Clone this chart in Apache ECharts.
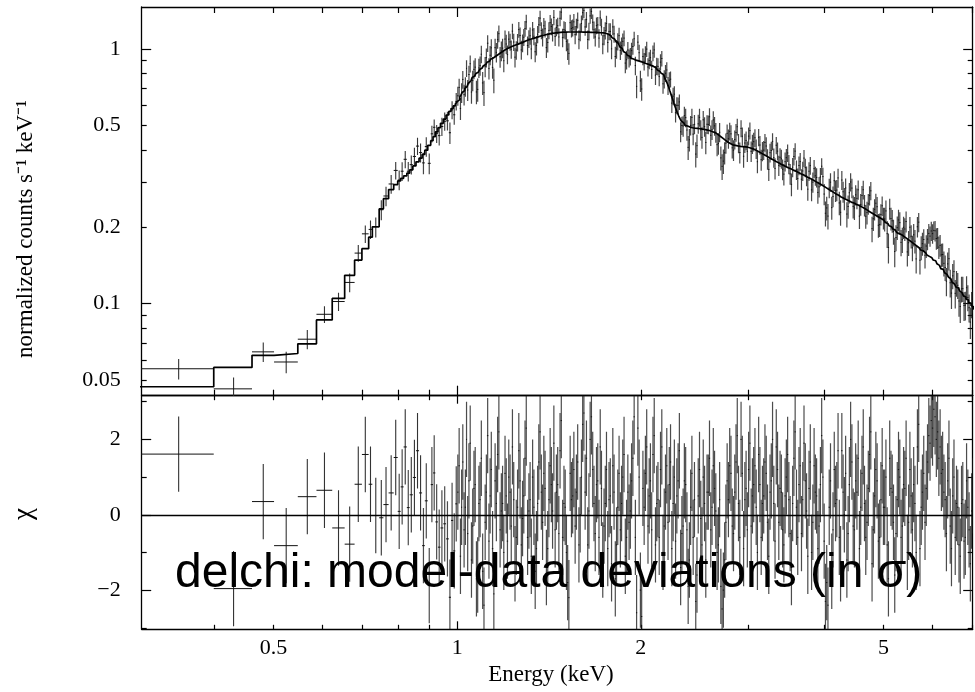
<!DOCTYPE html>
<html>
<head>
<meta charset="utf-8">
<script src="https://cdn.jsdelivr.net/npm/echarts@6/dist/echarts.min.js"></script>
<style>
html,body{margin:0;padding:0;background:#ffffff;}
#chart{width:975px;height:692px;}
</style>
</head>
<body>
<div id="chart"></div>
<script>
// ---------------- DATA ----------------
// Energy bin edges (keV)
const binEdges = [
  0.300, 0.399, 0.461, 0.501, 0.548, 0.588, 0.624, 0.654, 0.679, 0.698, 0.716,
  0.726, 0.745, 0.757, 0.772, 0.787, 0.799, 0.808, 0.817, 0.827, 0.836, 0.846, 0.856, 0.866, 0.876,
  0.885, 0.895, 0.905, 0.913, 0.921, 0.930, 0.939, 0.949, 0.959, 0.969, 0.977, 0.985, 0.993,
  1.000, 1.005, 1.010, 1.015, 1.019, 1.024, 1.029, 1.034, 1.038, 1.043, 1.048, 1.053, 1.058, 1.063, 1.068, 1.073, 1.078, 1.083, 1.088, 1.093,
  1.098, 1.104, 1.109, 1.114, 1.119, 1.125, 1.130, 1.135, 1.140, 1.146, 1.151, 1.157, 1.162, 1.168, 1.173, 1.179, 1.184, 1.190, 1.195, 1.201,
  1.206, 1.212, 1.218, 1.224, 1.229, 1.235, 1.241, 1.247, 1.253, 1.259, 1.265, 1.271, 1.277, 1.283, 1.289, 1.295, 1.301, 1.308, 1.314, 1.320,
  1.326, 1.333, 1.339, 1.346, 1.352, 1.358, 1.364, 1.371, 1.377, 1.384, 1.390, 1.397, 1.404, 1.411, 1.417, 1.424, 1.430, 1.437, 1.444, 1.451,
  1.458, 1.465, 1.471, 1.478, 1.485, 1.493, 1.500, 1.507, 1.514, 1.521, 1.528, 1.536, 1.543, 1.550, 1.557, 1.565, 1.572, 1.580, 1.587, 1.595,
  1.602, 1.610, 1.617, 1.625, 1.633, 1.641, 1.648, 1.656, 1.664, 1.672, 1.680, 1.688, 1.696, 1.704, 1.712, 1.720, 1.728, 1.737, 1.745, 1.753,
  1.761, 1.770, 1.778, 1.787, 1.795, 1.804, 1.812, 1.821, 1.829, 1.838, 1.847, 1.856, 1.864, 1.873, 1.882, 1.891, 1.900, 1.909, 1.918, 1.927,
  1.936, 1.946, 1.955, 1.964, 1.973, 1.983, 1.992, 2.002, 2.011, 2.021, 2.030, 2.040, 2.050, 2.060, 2.069, 2.079, 2.089, 2.099, 2.109, 2.119,
  2.129, 2.139, 2.149, 2.160, 2.170, 2.180, 2.190, 2.201, 2.211, 2.222, 2.232, 2.243, 2.254, 2.265, 2.275, 2.286, 2.297, 2.308, 2.319, 2.330,
  2.341, 2.352, 2.363, 2.375, 2.386, 2.397, 2.408, 2.420, 2.431, 2.443, 2.455, 2.467, 2.478, 2.490, 2.502, 2.514, 2.525, 2.538, 2.550, 2.562,
  2.574, 2.586, 2.598, 2.611, 2.623, 2.636, 2.648, 2.661, 2.674, 2.687, 2.699, 2.712, 2.725, 2.738, 2.751, 2.764, 2.777, 2.791, 2.804, 2.818,
  2.831, 2.845, 2.858, 2.872, 2.885, 2.899, 2.913, 2.927, 2.941, 2.955, 2.969, 2.983, 2.997, 3.012, 3.026, 3.041, 3.055, 3.070, 3.084, 3.099,
  3.113, 3.128, 3.143, 3.158, 3.173, 3.188, 3.203, 3.219, 3.234, 3.250, 3.265, 3.281, 3.296, 3.312, 3.327, 3.343, 3.359, 3.375, 3.391, 3.408,
  3.424, 3.440, 3.456, 3.473, 3.489, 3.506, 3.523, 3.540, 3.556, 3.573, 3.590, 3.608, 3.625, 3.642, 3.659, 3.677, 3.694, 3.712, 3.730, 3.748,
  3.765, 3.783, 3.801, 3.820, 3.838, 3.856, 3.874, 3.893, 3.911, 3.930, 3.949, 3.968, 3.986, 4.006, 4.025, 4.044, 4.063, 4.083, 4.102, 4.122,
  4.141, 4.161, 4.181, 4.201, 4.221, 4.241, 4.261, 4.282, 4.302, 4.323, 4.343, 4.364, 4.384, 4.405, 4.426, 4.448, 4.469, 4.490, 4.511, 4.533,
  4.554, 4.576, 4.598, 4.620, 4.642, 4.664, 4.686, 4.709, 4.731, 4.754, 4.776, 4.799, 4.822, 4.845, 4.868, 4.892, 4.915, 4.939, 4.962, 4.986,
  5.009, 5.033, 5.057, 5.081, 5.105, 5.130, 5.154, 5.179, 5.203, 5.228, 5.253, 5.278, 5.303, 5.329, 5.354, 5.380, 5.405, 5.431, 5.457, 5.483,
  5.509, 5.536, 5.562, 5.589, 5.615, 5.642, 5.668, 5.696, 5.723, 5.750, 5.777, 5.805, 5.833, 5.861, 5.888, 5.917, 5.945, 5.973, 6.001, 6.030,
  6.059, 6.088, 6.117, 6.146, 6.175, 6.205, 6.234, 6.264, 6.294, 6.324, 6.354, 6.385, 6.415, 6.446, 6.476, 6.507, 6.538, 6.569, 6.600, 6.632,
  6.663, 6.695, 6.727, 6.759, 6.791, 6.824, 6.856, 6.889, 6.922, 6.955, 6.988, 7.022, 7.055
];

// Folded model (normalized counts s^-1 keV^-1), one value per bin
const modelRate = [
  0.0470, 0.0560, 0.0625, 0.0635, 0.0693, 0.0861, 0.1046, 0.1289, 0.148, 0.164,
  0.182, 0.200, 0.235, 0.258, 0.280, 0.293, 0.303, 0.310, 0.317, 0.325,
  0.335, 0.347, 0.360, 0.372, 0.385, 0.400, 0.418, 0.436, 0.452, 0.472,
  0.490, 0.510, 0.530, 0.550, 0.568, 0.583, 0.597, 0.608,
  0.621, 0.632, 0.648, 0.661, 0.674, 0.686, 0.699, 0.711, 0.722, 0.734, 0.747, 0.759, 0.772, 0.782, 0.791, 0.800, 0.810, 0.820, 0.830, 0.840,
  0.850, 0.859, 0.868, 0.877, 0.886, 0.895, 0.904, 0.912, 0.921, 0.929, 0.936, 0.944, 0.951, 0.959, 0.966, 0.974, 0.981, 0.988, 0.995, 1.001,
  1.007, 1.012, 1.017, 1.022, 1.027, 1.032, 1.036, 1.040, 1.045, 1.049, 1.054, 1.059, 1.064, 1.069, 1.074, 1.079, 1.084, 1.088, 1.092, 1.096,
  1.100, 1.104, 1.108, 1.112, 1.116, 1.120, 1.124, 1.128, 1.131, 1.134, 1.137, 1.140, 1.143, 1.146, 1.149, 1.151, 1.153, 1.155, 1.157, 1.159,
  1.160, 1.161, 1.162, 1.163, 1.164, 1.164, 1.165, 1.165, 1.166, 1.166, 1.166, 1.166, 1.166, 1.166, 1.166, 1.166, 1.166, 1.166, 1.166, 1.166,
  1.165, 1.165, 1.165, 1.165, 1.164, 1.164, 1.163, 1.163, 1.162, 1.162, 1.161, 1.161, 1.160, 1.159, 1.158, 1.157, 1.156, 1.154, 1.153, 1.149,
  1.143, 1.136, 1.127, 1.117, 1.106, 1.094, 1.081, 1.068, 1.053, 1.037, 1.020, 1.005, 0.992, 0.978, 0.965, 0.953, 0.945, 0.936, 0.927, 0.919,
  0.913, 0.908, 0.904, 0.900, 0.898, 0.895, 0.892, 0.888, 0.884, 0.880, 0.877, 0.873, 0.870, 0.866, 0.862, 0.858, 0.854, 0.849, 0.843, 0.836,
  0.827, 0.818, 0.810, 0.802, 0.793, 0.781, 0.766, 0.749, 0.730, 0.708, 0.684, 0.660, 0.637, 0.615, 0.595, 0.577, 0.560, 0.545, 0.532, 0.521,
  0.512, 0.506, 0.501, 0.498, 0.495, 0.493, 0.492, 0.490, 0.489, 0.488, 0.487, 0.487, 0.486, 0.486, 0.485, 0.484, 0.483, 0.482, 0.481, 0.480,
  0.479, 0.477, 0.475, 0.473, 0.471, 0.469, 0.466, 0.462, 0.458, 0.454, 0.450, 0.446, 0.442, 0.438, 0.434, 0.431, 0.428, 0.425, 0.422, 0.420,
  0.419, 0.418, 0.417, 0.416, 0.415, 0.414, 0.413, 0.413, 0.412, 0.412, 0.411, 0.411, 0.410, 0.408, 0.407, 0.405, 0.403, 0.401, 0.398, 0.396,
  0.393, 0.391, 0.388, 0.386, 0.383, 0.381, 0.378, 0.376, 0.373, 0.371, 0.369, 0.367, 0.364, 0.362, 0.360, 0.358, 0.355, 0.353, 0.351, 0.349,
  0.347, 0.345, 0.343, 0.341, 0.340, 0.338, 0.336, 0.334, 0.333, 0.331, 0.329, 0.327, 0.325, 0.323, 0.322, 0.320, 0.318, 0.316, 0.314, 0.312,
  0.311, 0.309, 0.307, 0.305, 0.303, 0.301, 0.299, 0.297, 0.295, 0.293, 0.291, 0.289, 0.287, 0.285, 0.283, 0.281, 0.279, 0.277, 0.275, 0.273,
  0.271, 0.269, 0.268, 0.266, 0.264, 0.262, 0.261, 0.259, 0.258, 0.256, 0.255, 0.253, 0.252, 0.250, 0.249, 0.248, 0.247, 0.245, 0.244, 0.243,
  0.242, 0.240, 0.239, 0.237, 0.236, 0.234, 0.232, 0.230, 0.229, 0.227, 0.226, 0.224, 0.223, 0.221, 0.220, 0.218, 0.217, 0.215, 0.214, 0.212,
  0.210, 0.208, 0.206, 0.204, 0.202, 0.200, 0.198, 0.196, 0.194, 0.192, 0.190, 0.188, 0.187, 0.186, 0.184, 0.183, 0.182, 0.180, 0.179, 0.177,
  0.176, 0.174, 0.173, 0.171, 0.170, 0.168, 0.167, 0.165, 0.164, 0.162, 0.161, 0.159, 0.158, 0.156, 0.155, 0.153, 0.152, 0.151, 0.150, 0.148,
  0.147, 0.145, 0.143, 0.141, 0.139, 0.137, 0.136, 0.134, 0.132, 0.130, 0.129, 0.127, 0.125, 0.123, 0.121, 0.119, 0.118, 0.116, 0.115, 0.113,
  0.112, 0.110, 0.109, 0.107, 0.106, 0.104, 0.103, 0.101, 0.100, 0.098, 0.097, 0.095
];

// 1-sigma error of each bin, in percent of the rate
const errPercent = [
  11, 9, 9, 9, 9, 8, 8, 8, 8, 9,
  9, 9, 9, 9, 9, 9, 9, 9, 9, 9, 9, 9, 9, 9, 9, 9, 8, 8, 8, 8, 8, 8, 8, 8, 8, 8, 8, 8,
  9, 9, 9, 9, 9, 9, 9, 9, 9, 9, 9, 9, 9, 9, 9, 9, 9, 9, 9, 9,
  9, 9, 9, 9, 9, 9, 9, 9, 9, 9, 9, 9, 9, 9, 9, 9, 9, 9, 9, 9,
  8, 8, 8, 8, 8, 8, 8, 8, 8, 8, 8, 8, 8, 8, 8, 8, 8, 8, 8, 8,
  8, 8, 8, 8, 8, 8, 8, 8, 8, 8, 8, 8, 8, 8, 8, 8, 8, 8, 8, 8,
  8, 8, 8, 8, 8, 8, 8, 8, 8, 8, 8, 8, 8, 8, 8, 8, 8, 8, 8, 8,
  8, 8, 8, 8, 8, 8, 8, 8, 8, 8, 8, 8, 8, 8, 8, 8, 8, 8, 8, 8,
  8, 8, 8, 8, 8, 8, 8, 8, 8, 8, 8, 8, 8, 8, 8, 8, 8, 8, 8, 8,
  8, 8, 8, 8, 8, 8, 8, 8, 8, 8, 8, 8, 8, 8, 8, 8, 8, 8, 8, 8,
  8, 8, 8, 8, 8, 8, 8, 8, 8, 8, 8, 8, 8, 8, 8, 8, 8, 8, 8, 8,
  9, 9, 9, 9, 9, 9, 9, 9, 9, 9, 9, 9, 9, 9, 9, 9, 9, 9, 9, 9,
  9, 9, 9, 9, 9, 9, 9, 9, 9, 9, 9, 9, 9, 9, 9, 9, 9, 9, 9, 9,
  9, 9, 9, 9, 9, 9, 9, 9, 9, 9, 9, 9, 9, 9, 9, 9, 9, 9, 9, 9,
  9, 9, 9, 9, 9, 9, 9, 9, 9, 9, 9, 9, 9, 9, 9, 9, 9, 9, 9, 9,
  9, 9, 9, 9, 9, 9, 9, 9, 9, 9, 9, 9, 9, 9, 9, 9, 9, 9, 9, 9,
  9, 9, 9, 9, 9, 9, 9, 9, 9, 9, 9, 9, 9, 9, 9, 9, 9, 9, 9, 9,
  10, 10, 10, 10, 10, 10, 10, 10, 10, 10, 10, 10, 10, 10, 10, 10, 10, 10, 10, 10,
  10, 10, 10, 10, 10, 10, 10, 10, 10, 10, 10, 10, 10, 10, 10, 10, 10, 10, 10, 10,
  11, 11, 11, 11, 11, 11, 11, 11, 11, 11, 11, 11, 11, 11, 11, 11, 11, 11, 11, 11,
  11, 11, 11, 11, 11, 11, 11, 11, 11, 11, 11, 11, 11, 11, 11, 11, 11, 11, 11, 11,
  12, 12, 12, 12, 12, 12, 12, 12, 12, 12, 12, 12, 12, 12, 12, 12, 12, 12, 12, 12,
  12, 12, 12, 12, 12, 12, 12, 12, 12, 12, 12, 12
];

// delchi: (data - model) / error, one value per bin
const delchi = [
  1.61, -1.96, 0.35, -0.82, 0.48, 0.65, -0.35, -0.78, 0.81, 1.60,
  0.81, -0.02, -0.08, 0.27, 0.58, 1.52, 0.09, 0.74, 1.80, 0.19,
  0.53, 0.99, 1.70, 0.58, -0.82, 0.37, -1.88, 0.80, 1.11, -0.19,
  -0.86, -0.35, -0.24, -0.64, -2.19, -0.15, -0.96, 0.29,
  0.6, 1.3, -1.1, 0.2, 1.4, -0.4, 0.2, 2.0, -0.5, 0.9, 1.9, -1.2, -0.3, 0.7, 0.8, -1.7, -1.6, 0.3, 0.4, 1.5,
  -1.5, -2.4, -0.2, 0.6, 2.1, -0.7, 0.5, 1.2, -0.9, -2.1, 0.9, 0.3, 1.6, 2.2, -0.4, 0.1, 0.3, -1.0, 1.1, 0.5,
  -0.7, 1.0, 0.6, -0.3, 1.8, 0.4, -1.3, -0.6, 0.2, 1.7, 0.9, -0.8, -0.1, 0.5, 1.5, 2.3, -0.6, 0.1, 0.4, -1.1,
  1.0, 0.2, -1.5, -0.9, 0.3, 1.4, 2.2, 0.6, -0.2, 1.1, 0.7, -1.4, -0.9, 0.4, 1.3, 0.8, 0.1, 1.9, -0.4, 0.6,
  0.8, -0.5, 1.7, 2.5, -0.6, 0.3, 0.2, -1.0, -1.8, -2.2, 1.1, 0.4, 0.5, 1.2, -0.3, 0.6, 1.4, -0.8, 0.0, 1.0,
  2.4, 2.7, 0.6, 1.5, -0.8, 0.1, 2.0, 2.6, 1.2, 0.3, -0.5, 0.8, 0.9, -0.6, 1.8, 0.7, -1.2, -0.3, 0.3, 1.2,
  -0.9, 0.4, 0.5, -1.3, 1.3, 0.6, -1.7, -0.8, 0.2, 1.1, -0.4, 0.3, 1.0, 1.6, -1.1, -0.6, 0.6, -0.2, 0.1, 0.9,
  1.5, 2.6, -0.6, -2.6, 2.3, 1.0, -2.0, -2.7, 0.7, 0.2, 1.1, 1.8, -0.3, 0.5, 0.9, -0.4, 1.6, 2.1, -0.8, 0.3,
  0.4, -0.6, 1.2, 1.8, -1.0, -0.3, 0.6, 1.3, -0.2, 0.8, 1.4, -0.9, 0.3, 1.0, -0.7, 0.5, 0.9, 1.7, -1.4, -0.5,
  -0.3, 0.9, 0.8, -0.4, -1.9, -1.2, 0.2, 1.1, -0.6, 0.4, -2.3, -1.6, 0.5, 1.2, -0.1, -0.8, 1.0, 0.3, -1.2, 0.6,
  0.6, 1.5, -0.4, 0.2, 1.3, 0.7, 0.1, -1.0, -0.8, 0.4, -1.9, -2.5, -2.0, -1.2, -0.2, 0.9, 0.4, 1.3, 1.1, -0.3,
  -0.5, 0.6, 1.4, 2.1, 0.3, -0.6, 2.0, 1.1, -0.9, 0.4, 0.7, -0.4, 1.2, 1.9, -0.3, 0.5, 0.8, 1.3, 0.2, -1.0,
  1.6, 0.8, -0.6, 0.3, 0.5, 1.4, 1.1, -0.2, -1.1, 0.6, 0.9, 2.0, 0.3, -0.7, 1.8, 1.2, -0.2, 0.7, 0.6, -0.4,
  -0.8, 0.5, 1.0, 1.6, 0.4, -0.5, -1.4, 0.3, 1.5, 2.2, 0.2, -0.6, 0.8, 1.3, -0.5, 0.4, 1.9, 0.9, 0.1, -1.1,
  0.7, 1.4, -1.0, -0.2, 1.3, 0.6, 0.5, -0.9, -0.3, 0.8, 2.1, 1.0, -0.7, -2.3, -1.8, -2.4, 0.2, 0.9, -1.5, -0.4,
  1.2, 0.3, 0.4, 1.7, -0.6, -1.3, 1.7, 0.6, 0.0, 1.1, -1.2, -0.5, 0.8, 2.0, 1.4, -0.3, -0.4, 0.9, 0.6, 1.5,
  -0.9, 0.2, 1.1, 1.8, 0.3, -0.6, -0.2, 0.7, 1.6, 2.2, -1.3, -0.4, 0.5, 1.2, 0.9, -0.7, -0.6, 0.4, 1.3, 0.2,
  0.2, 1.0, -0.8, -1.7, 1.5, 0.7, 0.6, -0.2, -1.6, -0.5, 0.4, 1.2, 1.0, -0.6, -0.3, 0.8, 0.7, 1.5, -1.0, -0.2,
  1.2, 0.5, -0.4, 0.8, 0.3, -1.0, 1.8, 2.4, -0.9, 0.2, 0.6, 1.1, -0.2, 0.7, 1.4, 2.1, 1.9, 2.5, 2.3, 2.8,
  2.6, 2.0, 2.2, 1.5, 1.8, 1.1, 1.2, 0.6, 0.4, -0.5, 0.9, 1.5, -0.3, -0.9, 0.5, 1.0, -0.6, 0.3, 0.2, -0.8,
  -1.1, 0.3, 0.4, -0.7, -0.6, 0.9, 0.2, -0.4, -1.3, 0.1, 0.5, -0.2
];

// Axis ranges and ticks
const energyRange = [0.304, 7.0];
const countsRange = [0.04335, 1.462];
const chiRange = [-3.04, 3.16];

const energyMajorTicks = [1];
const energyMinorTicks = [0.4, 0.5, 0.6, 0.7, 0.8, 0.9, 2, 3, 4, 5, 6, 7];
const energyLabelValues = [0.5, 1, 2, 5];
const energyLabelTexts = ['0.5', '1', '2', '5'];

const countsMajorTicks = [0.1, 1];
const countsMinorTicks = [0.05, 0.06, 0.07, 0.08, 0.09, 0.2, 0.3, 0.4, 0.5, 0.6, 0.7, 0.8, 0.9];
const countsLabelValues = [0.05, 0.1, 0.2, 0.5, 1];
const countsLabelTexts = ['0.05', '0.1', '0.2', '0.5', '1'];

const chiMajorTicks = [-2, 0, 2];
const chiMinorTicks = [-3, -1, 1, 3];
const chiLabelValues = [-2, 0, 2];
const chiLabelTexts = ['\u22122', '0', '2'];

const yTitle = 'normalized counts s\u207B\u00B9 keV\u207B\u00B9';
const chiTitle = '\u03C7';
const xTitle = 'Energy (keV)';
const annotation = 'delchi: model-data deviations (in \u03C3)';

// ---------------- BUILD ----------------
const L = Math.log10;
const ident = v => v;
const nBins = Math.min(binEdges.length - 1, modelRate.length, errPercent.length, delchi.length);

const topPoints = [];
const chiPoints = [];
const modelSteps = [];
for (let i = 0; i < nBins; i++) {
  const lo = binEdges[i], hi = binEdges[i + 1], mid = (lo + hi) / 2;
  const m = modelRate[i];
  const err = m * errPercent[i] / 100;
  const rate = m + delchi[i] * err;
  topPoints.push([L(lo), L(hi), L(mid), L(rate), L(Math.max(rate - err, 1e-4)), L(rate + err)]);
  chiPoints.push([L(lo), L(hi), L(mid), delchi[i], delchi[i] - 1, delchi[i] + 1]);
  modelSteps.push([L(lo), L(m)]);
}
modelSteps.push([L(binEdges[nBins]), L(modelRate[nBins - 1])]);

const SERIF = '"Liberation Serif", "Times New Roman", serif';
const SANS = '"Liberation Sans", Arial, sans-serif';

function labelFmt(values, texts, tf) {
  return function (v) {
    for (let i = 0; i < values.length; i++) {
      if (Math.abs(tf(values[i]) - v) < 1e-6) return texts[i];
    }
    return '';
  };
}

function makeAxis(grid, pos, range, tf, ticks, len, showLine, labels) {
  const ax = {
    type: 'value', gridIndex: grid, position: pos,
    min: tf(range[0]), max: tf(range[1]),
    splitLine: { show: false },
    axisLine: { show: showLine, onZero: false, lineStyle: { color: '#000', width: 1.3 } },
    axisTick: { show: true, inside: true, length: len, customValues: ticks.map(tf),
                lineStyle: { color: '#000', width: 1.2 } },
    axisLabel: { show: false }
  };
  if (labels) {
    ax.axisLabel = {
      show: true, customValues: labels.values.map(tf),
      formatter: labelFmt(labels.values, labels.texts, tf),
      margin: labels.margin, color: '#000', fontFamily: SERIF, fontSize: 22
    };
  }
  return ax;
}

const xAxes = [
  makeAxis(0, 'bottom', energyRange, L, energyMajorTicks, 10, true),
  makeAxis(0, 'bottom', energyRange, L, energyMinorTicks, 6, false),
  makeAxis(0, 'top', energyRange, L, energyMajorTicks, 10, true),
  makeAxis(0, 'top', energyRange, L, energyMinorTicks, 6, false),
  makeAxis(1, 'bottom', energyRange, L, energyMajorTicks, 8, true,
           { values: energyLabelValues, texts: energyLabelTexts, margin: 8 }),
  makeAxis(1, 'bottom', energyRange, L, energyMinorTicks, 4.5, false),
  makeAxis(1, 'top', energyRange, L, energyMajorTicks, 8, true),
  makeAxis(1, 'top', energyRange, L, energyMinorTicks, 4.5, false)
];
const yAxes = [
  makeAxis(0, 'left', countsRange, L, countsMajorTicks, 9.5, true,
           { values: countsLabelValues, texts: countsLabelTexts, margin: 21 }),
  makeAxis(0, 'left', countsRange, L, countsMinorTicks, 5, false),
  makeAxis(0, 'right', countsRange, L, countsMajorTicks, 9.5, true),
  makeAxis(0, 'right', countsRange, L, countsMinorTicks, 5, false),
  makeAxis(1, 'left', chiRange, ident, chiMajorTicks, 9.5, true,
           { values: chiLabelValues, texts: chiLabelTexts, margin: 21 }),
  makeAxis(1, 'left', chiRange, ident, chiMinorTicks, 5, false),
  makeAxis(1, 'right', chiRange, ident, chiMajorTicks, 9.5, true),
  makeAxis(1, 'right', chiRange, ident, chiMinorTicks, 5, false)
];

function crossRenderer(hColor, vWide, vNarrow) {
  return function (params, api) {
    const a = api.coord([api.value(0), api.value(3)]);
    const b = api.coord([api.value(1), api.value(3)]);
    const t = api.coord([api.value(2), api.value(5)]);
    const u = api.coord([api.value(2), api.value(4)]);
    const wide = (b[0] - a[0]) > 3;
    return {
      type: 'group',
      children: [
        { type: 'line', shape: { x1: t[0], y1: t[1], x2: u[0], y2: u[1] },
          style: wide ? { stroke: vWide, lineWidth: 1.1 } : { stroke: vNarrow, lineWidth: 1.2 } },
        { type: 'line', shape: { x1: a[0], y1: a[1], x2: b[0], y2: b[1] },
          style: { stroke: hColor, lineWidth: 1 } }
      ]
    };
  };
}

const chart = echarts.init(document.getElementById('chart'), null, { renderer: 'canvas' });
chart.setOption({
  backgroundColor: '#ffffff',
  animation: false,
  grid: [
    { left: 141.7, right: 2.3, top: 7, height: 388.7, containLabel: false, outerBoundsMode: 'none' },
    { left: 141.7, right: 2.3, top: 395.7, height: 233.6, containLabel: false, outerBoundsMode: 'none' }
  ],
  xAxis: xAxes,
  yAxis: yAxes,
  series: [
    {
      type: 'custom', name: 'data', xAxisIndex: 0, yAxisIndex: 0, clip: true, z: 2,
      renderItem: crossRenderer('#111', '#333', 'rgba(25,25,25,0.8)'),
      encode: { x: [0, 1, 2], y: [3, 4, 5] },
      data: topPoints
    },
    {
      type: 'line', name: 'model', xAxisIndex: 0, yAxisIndex: 0, step: 'end',
      symbol: 'none', showSymbol: false, clip: true, z: 3,
      lineStyle: { color: '#000', width: 1.7 },
      data: modelSteps
    },
    {
      type: 'custom', name: 'delchi', xAxisIndex: 4, yAxisIndex: 4, clip: true, z: 2,
      renderItem: crossRenderer('#111', '#333', 'rgba(25,25,25,0.78)'),
      encode: { x: [0, 1, 2], y: [3, 4, 5] },
      data: chiPoints,
      markLine: {
        silent: true, symbol: 'none', animation: false,
        label: { show: false },
        lineStyle: { color: '#000', width: 1.4, type: 'solid' },
        data: [{ yAxis: 0 }]
      }
    }
  ],
  graphic: [
    { type: 'text', x: 26, y: 229, rotation: Math.PI / 2, z: 50,
      style: { text: yTitle, font: '23px ' + SERIF, fill: '#000',
               align: 'center', verticalAlign: 'middle', textAlign: 'center', textVerticalAlign: 'middle' } },
    { type: 'text', x: 24, y: 514, rotation: Math.PI / 2, z: 50,
      style: { text: chiTitle, font: '27px ' + SERIF, fill: '#000',
               align: 'center', verticalAlign: 'middle', textAlign: 'center', textVerticalAlign: 'middle' } },
    { type: 'text', x: 551, y: 675, z: 50,
      style: { text: xTitle, font: '23px ' + SERIF, fill: '#000',
               align: 'center', verticalAlign: 'middle', textAlign: 'center', textVerticalAlign: 'middle' } },
    { type: 'text', x: 175, y: 574, z: 40,
      style: { text: annotation, font: '48px ' + SANS, fill: '#000',
               align: 'left', verticalAlign: 'middle', textAlign: 'left', textVerticalAlign: 'middle' } }
  ]
});
</script>
</body>
</html>
